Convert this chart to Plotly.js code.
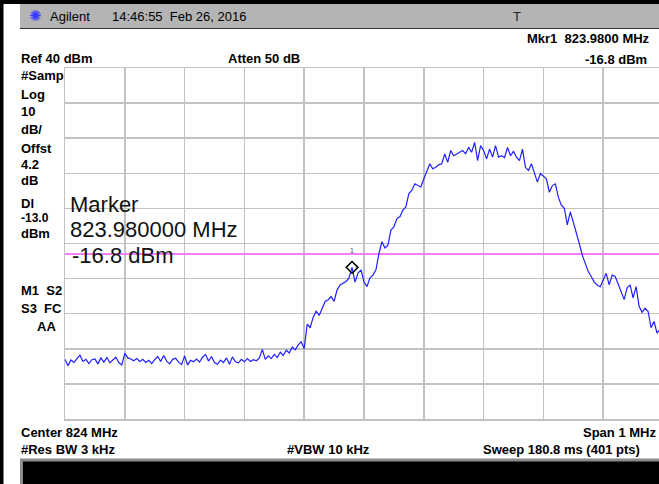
<!DOCTYPE html>
<html>
<head>
<meta charset="utf-8">
<script src="https://cdn.plot.ly/plotly-3.0.1.min.js"></script>
<style>html,body{margin:0;padding:0;overflow:hidden;background:#fff}#chart{width:659px;height:484px}</style>
</head>
<body>
<div id="chart"></div>
<script>
// ---- data ----
const centerMHz = 824;
const spanMHz = 1;
const refLevel = 40;      // dBm (top of screen)
const dbPerDiv = 10;
const displayLine = -13.0; // dBm
const markerFreq = [823.98];
const markerLevel = [-16.8];
// trace level (dBm), every 0.005 MHz from 823.5 MHz
const levelsDbm = [
-43.0,-44.8,-43.2,-43.9,-42.8,-41.8,-43.6,-43.0,-44.2,-43.1,
-42.9,-44.3,-42.6,-43.8,-42.5,-44.0,-43.2,-42.4,-43.9,-44.6,
-41.3,-42.6,-42.9,-43.4,-42.8,-43.6,-43.0,-43.9,-43.3,-44.2,
-43.1,-42.2,-43.6,-41.9,-43.5,-44.3,-43.0,-42.7,-43.8,-44.5,
-42.0,-44.6,-43.3,-43.7,-42.9,-43.8,-42.4,-41.6,-43.5,-42.2,
-43.9,-44.4,-43.2,-43.9,-42.6,-44.4,-42.3,-43.7,-44.0,-43.0,
-43.7,-42.8,-43.6,-43.1,-43.4,-42.6,-40.2,-43.0,-42.0,-42.8,
-41.6,-42.5,-41.0,-41.9,-40.4,-41.2,-39.5,-40.3,-38.9,-38.0,
-40.0,-33.0,-34.0,-31.0,-29.3,-30.5,-28.5,-26.5,-26.0,-25.1,
-26.5,-23.2,-21.8,-21.2,-20.8,-19.8,-16.8,-21.0,-18.4,-17.5,
-21.0,-22.3,-19.8,-19.0,-17.5,-12.8,-9.5,-11.3,-10.5,-6.2,
-5.3,-2.9,-2.4,-0.5,0.4,4.2,5.1,7.0,6.5,6.1,
8.4,10.8,12.7,11.3,11.7,12.4,12.7,15.5,13.1,16.5,
15.0,15.5,16.0,16.5,15.6,17.4,16.0,18.8,13.6,17.9,
16.5,14.1,16.9,14.6,17.9,14.6,15.0,14.5,17.4,15.0,
16.3,14.6,13.6,16.9,11.7,10.8,12.7,10.3,7.5,9.9,
9.0,8.4,4.6,6.5,7.0,3.2,0.9,0.0,-4.7,-1.0,
-3.9,-6.7,-10.0,-13.3,-15.6,-18.0,-19.4,-21.0,-21.8,-22.3,
-20.4,-18.5,-21.8,-19.0,-19.4,-21.3,-23.7,-26.0,-22.6,-21.8,
-25.5,-22.3,-27.9,-29.6,-28.4,-29.3,-34.0,-32.2,-35.5,-34.5,
-35.0
];
const headerTexts = ['Agilent', '14:46:55\u00a0\u00a0Feb 26, 2016', 'T'];
const mkrTexts = ['Mkr1\u00a0\u00a0823.9800 MHz', '-16.8 dBm'];
const topTexts = ['Ref 40 dBm', 'Atten 50 dB'];
const leftLabels = ['#Samp','Log','10','dB/','Offst','4.2','dB','Dl','-13.0','dBm','M1\u00a0\u00a0S2','S3\u00a0\u00a0FC','AA'];
const markerBox = ['Marker', '823.980000 MHz', '-16.8 dBm'];
const bottomTexts = ['Center 824 MHz', 'Span 1 MHz', '#Res BW 3 kHz', '#VBW 10 kHz', 'Sweep 180.8 ms (401 pts)'];

// ---- geometry ----
const L = 65, T = 68, W = 594, H = 351;
const px = x => (x - L) / W;
const py = y => (T + H - y) / H;
const FONT = 'Liberation Sans, Arial, sans-serif';
const startMHz = centerMHz - spanMHz / 2;
const stepMHz = spanMHz / 200;
const GRID = '#c2c2c2';

function ann(x, y, text, o) {
  o = o || {};
  const anchor = o.anchor || 'left';
  const dx = anchor === 'left' ? -2 : (anchor === 'right' ? 2 : 0);
  return {xref: 'paper', yref: 'paper', x: px(x + dx), y: py(y), text: o.bold === false ? text : '<b>' + text + '</b>',
    showarrow: false, xanchor: anchor, yanchor: 'middle',
    font: {family: FONT, size: o.size || 13, color: o.color || '#000'}};
}

const annotations = [];
annotations.push({xref:'paper', yref:'paper', x: px(35), y: py(16), text:'\u273A', showarrow:false,
  xanchor:'center', yanchor:'middle', font:{family:'DejaVu Sans', size:15, color:'#3a3aff'}});
annotations.push(ann(50, 16, headerTexts[0], {bold:false}));
annotations.push(ann(112, 16, headerTexts[1], {bold:false}));
annotations.push(ann(517, 16, headerTexts[2], {bold:false, anchor:'center', color:'#222'}));
annotations.push(ann(650, 38, mkrTexts[0], {anchor:'right'}));
annotations.push(ann(647, 59.5, mkrTexts[1], {anchor:'right'}));
annotations.push(ann(21, 58.5, topTexts[0]));
annotations.push(ann(228, 58.5, topTexts[1]));
const leftY = [75.5, 95, 111, 129, 148, 164, 180, 203, 218, 234, 290.5, 308.5, 326];
leftLabels.forEach((t, i) => {
  if (t === 'AA') annotations.push(ann(56, leftY[i], t, {anchor:'right'}));
  else annotations.push(ann(21, leftY[i], t, {size: t === '-13.0' ? 12 : 13}));
});
annotations.push(ann(70, 204, markerBox[0], {bold:false, size:22, color:'#111'}));
annotations.push(ann(70, 229.5, markerBox[1], {bold:false, size:22, color:'#111'}));
annotations.push(ann(72, 255.5, markerBox[2], {bold:false, size:22, color:'#111'}));
annotations.push(ann(21, 432, bottomTexts[0]));
annotations.push(ann(656, 432, bottomTexts[1], {anchor:'right'}));
annotations.push(ann(21, 449.5, bottomTexts[2]));
annotations.push(ann(287, 449.5, bottomTexts[3]));
annotations.push(ann(483, 449.5, bottomTexts[4]));
annotations.push({xref:'x', yref:'y', x: markerFreq[0], y: markerLevel[0], yshift: 17, text:'1', showarrow:false,
  font:{family:FONT, size:7, color:'#555'}});

const R = (x0, y0, x1, y1, fill, line) => ({type:'rect', xref:'paper', yref:'paper', layer:'above',
  x0: px(x0), x1: px(x1), y0: py(y1), y1: py(y0), fillcolor: fill, line: line || {width: 0}});
const shapes = [
  R(0, 0, 700, 4, '#000'),
  R(0, 0, 3.5, 484, '#000'),
  R(20, 4, 700, 28, '#b4b4b4'),
  {type:'line', xref:'paper', yref:'paper', layer:'above', x0: px(20), x1: px(700), y0: py(28.5), y1: py(28.5), line:{color:'#333', width:1}},
  R(21.5, 460, 700, 500, '#000', {color:'#8c8c8c', width:3})
];

const traces = [
  {type:'scatter', mode:'lines', x:[startMHz, startMHz + spanMHz], y:[displayLine, displayLine],
   line:{color:'#f47ff4', width:2}, hoverinfo:'skip'},
  {type:'scatter', mode:'lines', x0: startMHz, dx: stepMHz, y: levelsDbm,
   line:{color:'#2020ff', width:1.2}, hoverinfo:'skip'},
  {type:'scatter', mode:'markers', x: markerFreq, y: markerLevel,
   marker:{symbol:'diamond-open', size:9, color:'#000', line:{width:1.5, color:'#000'}}, hoverinfo:'skip'}
];

const layout = {
  width: 659, height: 484,
  margin: {l: L, r: 0, t: T, b: 484 - T - H, pad: 0},
  paper_bgcolor: '#fff', plot_bgcolor: '#fff', showlegend: false,
  xaxis: {range: [startMHz, startMHz + spanMHz * W / 598], tick0: startMHz, dtick: spanMHz / 10,
    showticklabels: false, ticks: '', showgrid: true, gridcolor: GRID, gridwidth: 1.5, zeroline: false,
    showline: true, mirror: true, linecolor: GRID, linewidth: 1.5},
  yaxis: {range: [refLevel - 10 * dbPerDiv, refLevel], tick0: refLevel, dtick: dbPerDiv,
    showticklabels: false, ticks: '', showgrid: true, gridcolor: GRID, gridwidth: 1.5, zeroline: false,
    showline: true, linecolor: GRID, linewidth: 1.5},
  annotations: annotations,
  shapes: shapes
};
Plotly.newPlot('chart', traces, layout, {staticPlot: true, displayModeBar: false});
</script>
</body>
</html>
